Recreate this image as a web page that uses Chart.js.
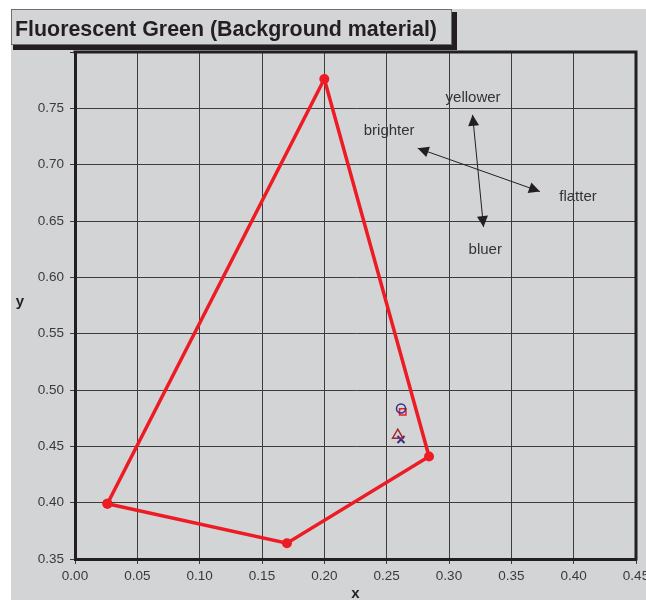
<!DOCTYPE html>
<html>
<head>
<meta charset="utf-8">
<script src="https://cdn.jsdelivr.net/npm/chart.js@4.4.1/dist/chart.umd.min.js"></script>
<style>
  html, body { margin: 0; padding: 0; background: #fff; }
  canvas { display: block; }
</style>
</head>
<body>
<canvas id="chart" width="646" height="600"></canvas>
<script>
// data
const xTickValues = [0.00, 0.05, 0.10, 0.15, 0.20, 0.25, 0.30, 0.35, 0.40, 0.45];
const yTickValues = [0.35, 0.40, 0.45, 0.50, 0.55, 0.60, 0.65, 0.70, 0.75, 0.80];

// red gamut outline (closed, first point repeated)
const gamutX = [0.026, 0.200, 0.284, 0.170, 0.026];
const gamutY = [0.399, 0.776, 0.441, 0.364, 0.399];

// measured samples
const circleSample = [0.2615, 0.4836];
const squareSample = [0.2629, 0.4806];
const triangleSample = [0.2589, 0.4599];
const crossSample = [0.2615, 0.4561];

// double headed arrows, [x1, y1, x2, y2]
const arrows = [
    [0.3189, 0.7442, 0.3277, 0.6446],
    [0.2749, 0.7146, 0.3729, 0.6762]
];
const noteText = ['yellower', 'brighter', 'flatter', 'bluer'];
const noteX = [0.3193, 0.2520, 0.4035, 0.3291];
const noteY = [0.7596, 0.7303, 0.6718, 0.6248];

const titleText = 'Fluorescent Green (Background material)';
const bg = '#d3d4d6';
const ink = '#231f20';
const fontFamily = '"Liberation Sans", Arial, Helvetica, sans-serif';

const toPoints = (xs, ys) => xs.map((x, i) => ({ x: x, y: ys[i] }));
const single = p => [{ x: p[0], y: p[1] }];

function arrowHead(ctx, fx, fy, tx, ty) {
    const a = Math.atan2(ty - fy, tx - fx);
    const len = 11, half = 5.5;
    ctx.beginPath();
    ctx.moveTo(tx, ty);
    ctx.lineTo(tx - len * Math.cos(a) + half * Math.sin(a), ty - len * Math.sin(a) - half * Math.cos(a));
    ctx.lineTo(tx - len * Math.cos(a) - half * Math.sin(a), ty - len * Math.sin(a) + half * Math.cos(a));
    ctx.closePath();
    ctx.fill();
}

const decorations = {
    id: 'decorations',
    beforeDraw(chart) {
        const ctx = chart.ctx;
        ctx.save();
        ctx.fillStyle = '#fff';
        ctx.fillRect(0, 0, chart.width, chart.height);
        ctx.fillStyle = bg;
        ctx.fillRect(11, 9, chart.width - 11, chart.height - 9);
        ctx.restore();
    },
    beforeDatasetsDraw(chart) {
        const ctx = chart.ctx;
        const a = chart.chartArea;
        const xs = chart.scales.x, ys = chart.scales.y;
        ctx.save();
        // top and right frame
        ctx.strokeStyle = ink;
        ctx.lineWidth = 3;
        ctx.beginPath();
        ctx.moveTo(a.left - 1.5, a.top);
        ctx.lineTo(a.right, a.top);
        ctx.lineTo(a.right, a.bottom + 1.5);
        ctx.stroke();

        // arrows
        ctx.strokeStyle = ink;
        ctx.fillStyle = ink;
        ctx.lineWidth = 1;
        arrows.forEach(r => {
            const x1 = xs.getPixelForValue(r[0]), y1 = ys.getPixelForValue(r[1]);
            const x2 = xs.getPixelForValue(r[2]), y2 = ys.getPixelForValue(r[3]);
            ctx.beginPath();
            ctx.moveTo(x1, y1);
            ctx.lineTo(x2, y2);
            ctx.stroke();
            arrowHead(ctx, x2, y2, x1, y1);
            arrowHead(ctx, x1, y1, x2, y2);
        });

        // notes
        ctx.font = '15px ' + fontFamily;
        ctx.fillStyle = '#333';
        ctx.textAlign = 'center';
        ctx.textBaseline = 'middle';
        noteText.forEach((t, i) => {
            ctx.fillText(t, xs.getPixelForValue(noteX[i]), ys.getPixelForValue(noteY[i]));
        });

        // axis titles
        ctx.font = 'bold 15px ' + fontFamily;
        ctx.fillStyle = ink;
        ctx.fillText('x', (a.left + a.right) / 2, 594);
        ctx.fillText('y', 20, 302);
        ctx.restore();
    },
    afterDraw(chart) {
        const ctx = chart.ctx;
        ctx.save();
        // title box with drop shadow
        ctx.fillStyle = ink;
        ctx.fillRect(13, 45, 444, 5);
        ctx.fillRect(452, 12, 5, 38);
        ctx.fillStyle = bg;
        ctx.fillRect(11, 9, 441, 36);
        ctx.strokeStyle = '#6d6e71';
        ctx.lineWidth = 1;
        ctx.strokeRect(11.5, 9.5, 440, 35);
        ctx.font = 'bold 21.4px ' + fontFamily;
        ctx.fillStyle = ink;
        ctx.textAlign = 'left';
        ctx.textBaseline = 'alphabetic';
        ctx.fillText(titleText, 15, 36);
        ctx.restore();
    }
};

new Chart(document.getElementById('chart'), {
    type: 'scatter',
    data: {
        datasets: [
            {
                data: toPoints(gamutX, gamutY),
                showLine: true,
                borderColor: '#ed1c24',
                borderWidth: 3.5,
                pointRadius: 5,
                pointBackgroundColor: '#ed1c24',
                pointBorderColor: '#ed1c24',
                pointBorderWidth: 0
            },
            {
                data: single(circleSample),
                pointStyle: 'circle',
                pointRadius: 4.5,
                borderColor: '#2e3192',
                backgroundColor: 'rgba(0,0,0,0)',
                borderWidth: 1.5
            },
            {
                data: single(squareSample),
                pointStyle: 'rect',
                pointRadius: 4.5,
                borderColor: '#ed1c24',
                backgroundColor: 'rgba(0,0,0,0)',
                borderWidth: 1.5
            },
            {
                data: single(triangleSample),
                pointStyle: 'triangle',
                pointRadius: 6,
                borderColor: '#a3282d',
                backgroundColor: 'rgba(0,0,0,0)',
                borderWidth: 1.5
            },
            {
                data: single(crossSample),
                pointStyle: 'crossRot',
                pointRadius: 5,
                borderColor: '#2e3192',
                borderWidth: 2
            }
        ]
    },
    options: {
        responsive: false,
        animation: false,
        layout: { padding: { top: 52, right: 10, left: 0, bottom: 0 } },
        plugins: {
            legend: { display: false },
            tooltip: { enabled: false },
            title: { display: false }
        },
        scales: {
            x: {
                type: 'linear',
                min: 0,
                max: 0.45,
                afterBuildTicks: s => { s.ticks = xTickValues.map(v => ({ value: v })); },
                afterFit: s => {
                    s.height = 41;
                    s.paddingLeft = 0; s.paddingRight = 0;
                },
                ticks: {
                    autoSkip: false,
                    maxRotation: 0,
                    padding: 4,
                    color: '#3a3a3a',
                    font: { family: fontFamily, size: 13.5 },
                    callback: v => v.toFixed(2)
                },
                grid: { color: '#3d3d3d', lineWidth: 1, tickLength: 5 },
                border: { display: true, width: 3, color: ink }
            },
            y: {
                type: 'linear',
                min: 0.35,
                max: 0.80,
                afterBuildTicks: s => { s.ticks = yTickValues.map(v => ({ value: v })); },
                afterFit: s => {
                    s.width = 75;
                    s.paddingTop = 0; s.paddingBottom = 0;
                },
                ticks: {
                    autoSkip: false,
                    padding: 6,
                    color: '#3a3a3a',
                    font: { family: fontFamily, size: 13.5 },
                    callback: v => v >= 0.799 ? '' : v.toFixed(2)
                },
                grid: { color: '#3d3d3d', lineWidth: 1, tickLength: 5 },
                border: { display: true, width: 3, color: ink }
            }
        }
    },
    plugins: [decorations]
});
</script>
</body>
</html>
